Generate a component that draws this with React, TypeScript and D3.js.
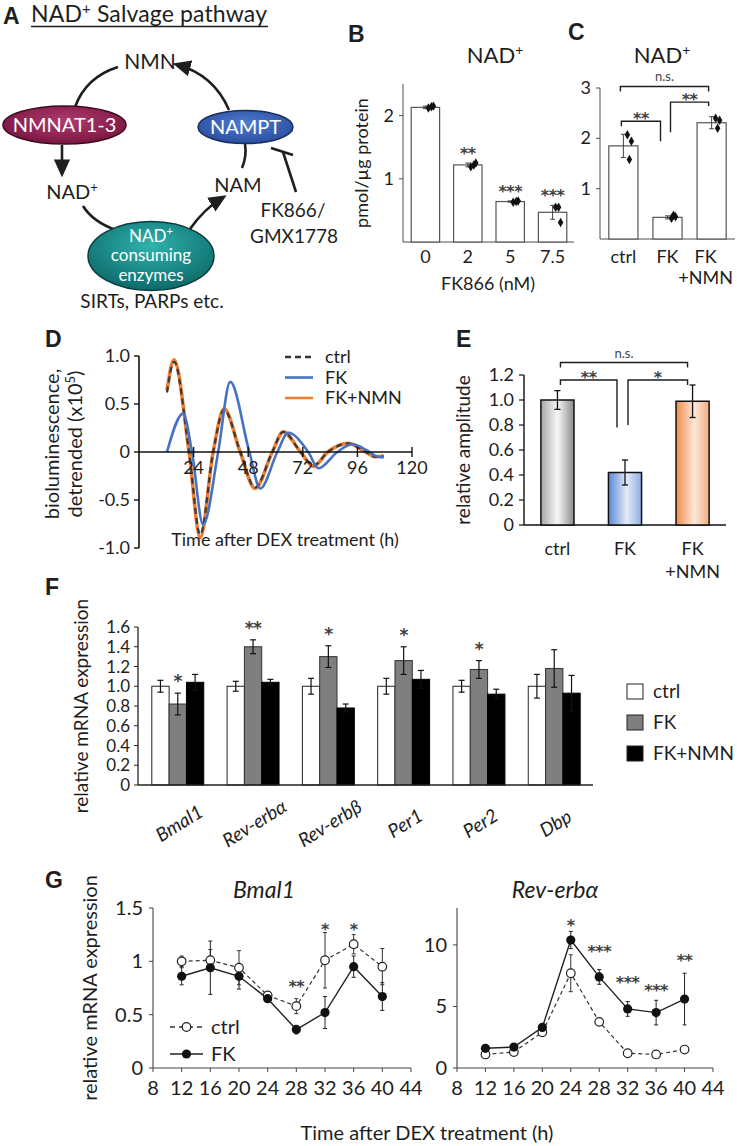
import React from 'react';
import * as d3 from 'd3';

const SANS = 'Lato, "Open Sans", "Noto Sans", sans-serif';
const BOLD = '"Liberation Sans", Arial, sans-serif';
const STAR = '"DejaVu Sans", sans-serif';
const INK = '#1e1e1e';
const AXIS = '#4d4d4d';

// ---------- Panel B ----------
const bDoses = ['0', '2', '5', '7.5'];
const bMeans = [2.13, 1.22, 0.64, 0.47];
const bErr = [0.02, 0.03, 0.01, 0.11];
const bDots = [
  [2.12, 2.14, 2.15],
  [1.19, 1.22, 1.25],
  [0.63, 0.64, 0.65],
  [0.55, 0.55, 0.31],
];
const bSig = ['', '**', '***', '***'];
const bTicks = [1, 2];

// ---------- Panel C ----------
const cGroups = ['ctrl', 'FK', 'FK+NMN'];
const cMeans = [1.85, 0.43, 2.31];
const cErr = [0.23, 0.03, 0.12];
const cDots = [
  [2.07, 1.94, 1.58],
  [0.41, 0.44, 0.47],
  [2.4, 2.36, 2.2],
];
const cTicks = [1, 2, 3];
const cBrackets = [
  { a: 0, b: 1, top: 2.34, endA: 2.24, endB: 1.94, label: '**' },
  { a: 1, b: 2, top: 2.72, endA: 2.12, endB: 2.64, label: '**' },
  { a: 0, b: 2, top: 3.03, endA: 2.93, endB: 2.93, label: 'n.s.' },
];

// ---------- Panel D ----------
const dCtrlT = [12.3, 15.4, 22, 26.9, 32.6, 37.4, 44.5, 51, 58.6, 63.4, 71, 76.7, 83, 92, 99, 104, 107.5];
const dCtrlV = [0.62, 0.94, 0, -0.86, 0, 0.44, 0, -0.37, 0, 0.21, 0, -0.14, 0, 0.09, 0.01, -0.05, -0.04];
const dNmnV = [0.64, 0.96, 0, -0.89, 0, 0.45, 0, -0.38, 0, 0.21, 0, -0.15, 0, 0.09, 0.01, -0.05, -0.04];
const dFkT = [12.3, 19.4, 23.3, 28.2, 34.8, 40.1, 48.5, 53.3, 60.8, 65.6, 74.4, 78.9, 87.2, 93.8, 100, 104, 107.5];
const dFkV = [0, 0.4, 0, -0.76, 0, 0.73, 0, -0.38, 0, 0.2, 0, -0.17, 0, 0.08, 0.02, -0.04, -0.06];
const dXTicks = [24, 48, 72, 96, 120];
const dYTicks = [-1, -0.5, 0, 0.5, 1];
const dLegend = ['ctrl', 'FK', 'FK+NMN'];

// ---------- Panel E ----------
const eGroups = ['ctrl', 'FK', 'FK+NMN'];
const eMeans = [1.0, 0.42, 0.99];
const eErr = [0.075, 0.1, 0.13];
const eTicks = [0, 0.2, 0.4, 0.6, 0.8, 1.0, 1.2];
const eBrackets = [
  { a: 0, b: 1, top: 1.16, endA: 1.12, endB: 0.78, label: '**' },
  { a: 1, b: 2, top: 1.16, endA: 0.8, endB: 1.12, label: '*' },
  { a: 0, b: 2, top: 1.3, endA: 1.26, endB: 1.26, label: 'n.s.' },
];

// ---------- Panel F ----------
const fGenes = ['Bmal1', 'Rev-erbα', 'Rev-erbβ', 'Per1', 'Per2', 'Dbp'];
const fSeriesNames = ['ctrl', 'FK', 'FK+NMN'];
const fCtrl = [1.0, 1.0, 1.0, 1.0, 1.0, 1.0];
const fCtrlErr = [0.06, 0.05, 0.08, 0.08, 0.06, 0.12];
const fFK = [0.82, 1.4, 1.3, 1.26, 1.17, 1.18];
const fFKErr = [0.11, 0.07, 0.11, 0.14, 0.09, 0.19];
const fNMN = [1.04, 1.04, 0.78, 1.07, 0.92, 0.93];
const fNMNErr = [0.08, 0.03, 0.04, 0.09, 0.05, 0.18];
const fSig = ['*', '**', '*', '*', '*', ''];
const fTicks = [0, 0.2, 0.4, 0.6, 0.8, 1.0, 1.2, 1.4, 1.6];

// ---------- Panel G ----------
const gTime = [12, 16, 20, 24, 28, 32, 36, 40];
const gXTicks = [8, 12, 16, 20, 24, 28, 32, 36, 40, 44];
const gBmCtrl = [1.0, 1.01, 0.94, 0.68, 0.58, 1.01, 1.16, 0.95];
const gBmCtrlErr = [0.05, 0.1, 0.16, 0.02, 0.07, 0.26, 0.09, 0.17];
const gBmFK = [0.86, 0.94, 0.86, 0.65, 0.36, 0.52, 0.95, 0.67];
const gBmFKErr = [0.08, 0.25, 0.12, 0.02, 0.04, 0.15, 0.1, 0.13];
const gBmSig = ['', '', '', '', '**', '*', '*', ''];
const gBmSigAt = [0, 0, 0, 0, 0.8, 1.34, 1.34, 0];
const gBmTicks = [0, 0.5, 1, 1.5];
const gRevCtrl = [1.1, 1.3, 2.9, 7.7, 3.75, 1.2, 1.1, 1.5];
const gRevCtrlErr = [0.1, 0.15, 0.2, 1.5, 0.2, 0.15, 0.1, 0.25];
const gRevFK = [1.6, 1.7, 3.3, 10.4, 7.4, 4.8, 4.5, 5.6];
const gRevFKErr = [0.15, 0.15, 0.25, 0.7, 0.6, 0.6, 1.0, 2.1];
const gRevSig = ['', '', '', '*', '***', '***', '***', '**'];
const gRevSigAt = [0, 0, 0, 11.9, 9.8, 7.3, 6.6, 9.1];
const gRevTicks = [0, 5, 10];

const fmt1 = (v: number) => (v === 0 ? '0' : v.toFixed(1));

function Panel({ x, y, t }: { x: number; y: number; t: string }) {
  return (
    <text x={x} y={y} fontFamily={BOLD} fontWeight={700} fontSize={23} fill={INK}>
      {t}
    </text>
  );
}

function ErrBar({ x, y1, y2, cap = 3, color = INK, w = 1.2 }: any) {
  return (
    <g stroke={color} strokeWidth={w}>
      <line x1={x} x2={x} y1={y1} y2={y2} />
      <line x1={x - cap} x2={x + cap} y1={y1} y2={y1} />
      <line x1={x - cap} x2={x + cap} y1={y2} y2={y2} />
    </g>
  );
}

function Stars({ x, cy, s, fs = 17, color = '#404040' }: any) {
  if (!s) return null;
  return (
    <text x={x} y={cy + fs * 0.6} textAnchor="middle" fontFamily={STAR} fontWeight={700} fontSize={fs} fill={color} letterSpacing={-0.5}>
      {s}
    </text>
  );
}

function PanelA() {
  return (
    <g fill={INK}>
      <Panel x={3} y={24} t="A" />
      <text x={31} y={22} fontSize={23} textLength={236} lengthAdjust="spacing">
        NAD<tspan fontSize={15} dy={-8}>+</tspan>
        <tspan dy={8}> Salvage pathway</tspan>
      </text>
      <line x1={31} x2={268} y1={26.5} y2={26.5} stroke={INK} strokeWidth={1.4} />
      <g fill="none" stroke={INK} strokeWidth={2.6}>
        <path d="M75,107 Q86,77 118,67" />
        <path d="M229,110 Q214,75 178,65" markerEnd="url(#arrowA)" />
        <path d="M62,145 L62,172" markerEnd="url(#arrowA)" />
        <path d="M83,206 Q93,222 116,230" />
        <path d="M190,229 Q204,209 222,198" markerEnd="url(#arrowA)" />
        <path d="M245,144 Q247,156 242,168" />
        <path d="M296,192 L283,152" />
        <path d="M271,148 L293,155" />
      </g>
      <ellipse cx={64.5} cy={125} rx={61.5} ry={19} fill="url(#gNmnat)" stroke="#3b0b22" strokeWidth={1.5} />
      <text x={64.5} y={132} textAnchor="middle" fill="#fff" fontSize={20}>NMNAT1-3</text>
      <ellipse cx={245.5} cy={127} rx={47.5} ry={16.5} fill="url(#gNampt)" stroke="#1b2d5c" strokeWidth={1.5} />
      <text x={245.5} y={134} textAnchor="middle" fill="#fff" fontSize={20}>NAMPT</text>
      <ellipse cx={151} cy={256} rx={63} ry={34.5} fill="url(#gTeal)" stroke="#0a3d3d" strokeWidth={1.5} />
      <text x={151} y={242} textAnchor="middle" fill="#fff" fontSize={17}>
        NAD<tspan fontSize={11} dy={-7}>+</tspan>
      </text>
      <text x={151} y={261} textAnchor="middle" fill="#fff" fontSize={17}>consuming</text>
      <text x={151} y={280.5} textAnchor="middle" fill="#fff" fontSize={17}>enzymes</text>
      <text x={150} y={69} textAnchor="middle" fontSize={21}>NMN</text>
      <text x={72} y={199} textAnchor="middle" fontSize={20}>
        NAD<tspan fontSize={13} dy={-7}>+</tspan>
      </text>
      <text x={238} y={192} textAnchor="middle" fontSize={20}>NAM</text>
      <text x={293} y={217} textAnchor="middle" fontSize={19}>FK866/</text>
      <text x={294} y={243} textAnchor="middle" fontSize={19}>GMX1778</text>
      <text x={152} y={308} textAnchor="middle" fontSize={19}>SIRTs, PARPs etc.</text>
    </g>
  );
}

function PanelB() {
  const x = d3.scaleBand<string>().domain(bDoses).range([404, 574]).paddingInner(0.33).paddingOuter(0.17);
  const y = d3.scaleLinear().domain([0, 2.5]).range([242, 84]);
  const bw = x.bandwidth();
  const jit = [3, 6, 8];
  const diamond = d3.symbol().type(d3.symbolDiamond).size(26)() as string;
  const ax = 403;
  return (
    <g fill={INK}>
      <Panel x={348} y={42} t="B" />
      <text x={495} y={63} textAnchor="middle" fontSize={22}>
        NAD<tspan fontSize={14} dy={-8}>+</tspan>
      </text>
      <line x1={ax} x2={ax} y1={y(2.5)} y2={y(0)} stroke={AXIS} />
      <line x1={ax} x2={574} y1={y(0)} y2={y(0)} stroke={AXIS} />
      {bTicks.map((t) => (
        <g key={t}>
          <line x1={ax - 4} x2={ax} y1={y(t)} y2={y(t)} stroke={AXIS} />
          <text x={ax - 9} y={y(t) + 6} textAnchor="end" fontSize={18}>{t}</text>
        </g>
      ))}
      {bDoses.map((d, i) => {
        const cx = (x(d) as number) + bw / 2;
        return (
          <g key={d}>
            <rect x={x(d)} y={y(bMeans[i])} width={bw} height={y(0) - y(bMeans[i])} fill="#fff" stroke="#555" strokeWidth={1.2} />
            <ErrBar x={cx} y1={y(bMeans[i] + bErr[i])} y2={y(bMeans[i] - bErr[i])} cap={2.5} color="#444" w={1} />
            {bDots[i].map((v, j) => (
              <path key={j} d={diamond} transform={`translate(${cx + jit[j]},${y(v)})`} fill="#111" />
            ))}
            <Stars x={cx} cy={y(bMeans[i] + bErr[i]) - 14} s={bSig[i]} fs={16} />
            <text x={cx} y={263} textAnchor="middle" fontSize={18}>{d}</text>
          </g>
        );
      })}
      <text x={488} y={290} textAnchor="middle" fontSize={18}>FK866 (nM)</text>
      <text transform={`translate(368,${(y(2.5) + y(0)) / 2}) rotate(-90)`} textAnchor="middle" fontSize={18}>
        pmol/µg protein
      </text>
    </g>
  );
}

function BarBrackets({ brackets, cx, y, offs, fs }: any) {
  return (
    <g>
      {brackets.map((b: any, i: number) => {
        const xa = cx(b.a) + offs[i][0];
        const xb = cx(b.b) + offs[i][1];
        const isNs = b.label === 'n.s.';
        return (
          <g key={i}>
            <path
              d={`M${xa},${y(b.endA)} V${y(b.top)} H${xb} V${y(b.endB)}`}
              fill="none"
              stroke={INK}
              strokeWidth={1.4}
            />
            {isNs ? (
              <text x={(xa + xb) / 2} y={y(b.top) - 5} textAnchor="middle" fontSize={13} fill="#444">n.s.</text>
            ) : (
              <Stars x={(xa + xb) / 2} cy={y(b.top) - 7} s={b.label} fs={fs} />
            )}
          </g>
        );
      })}
    </g>
  );
}

function PanelC() {
  const x = d3.scaleBand<string>().domain(cGroups).range([600, 735]).paddingInner(0.34).paddingOuter(0.2);
  const y = d3.scaleLinear().domain([0, 3]).range([239, 88]);
  const bw = x.bandwidth();
  const cx = (i: number) => (x(cGroups[i]) as number) + bw / 2;
  const jit = [4, 8, 6];
  const diamond = d3.symbol().type(d3.symbolDiamond).size(26)() as string;
  const ax = 600;
  return (
    <g fill={INK}>
      <Panel x={568} y={40} t="C" />
      <text x={662} y={63} textAnchor="middle" fontSize={22}>
        NAD<tspan fontSize={14} dy={-8}>+</tspan>
      </text>
      <line x1={ax} x2={ax} y1={y(3)} y2={y(0)} stroke={AXIS} />
      <line x1={ax} x2={735} y1={y(0)} y2={y(0)} stroke={AXIS} />
      {cTicks.map((t) => (
        <g key={t}>
          <line x1={ax - 4} x2={ax} y1={y(t)} y2={y(t)} stroke={AXIS} />
          <text x={ax - 9} y={y(t) + 6} textAnchor="end" fontSize={18}>{t}</text>
        </g>
      ))}
      {cGroups.map((g, i) => (
        <g key={g}>
          <rect x={x(g)} y={y(cMeans[i])} width={bw} height={y(0) - y(cMeans[i])} fill="#fff" stroke="#555" strokeWidth={1.2} />
          <ErrBar x={cx(i)} y1={y(cMeans[i] + cErr[i])} y2={y(cMeans[i] - cErr[i])} cap={2.5} color="#444" w={1} />
          {cDots[i].map((v, j) => (
            <path key={j} d={diamond} transform={`translate(${cx(i) + jit[j]},${y(v)})`} fill="#111" />
          ))}
        </g>
      ))}
      <BarBrackets brackets={cBrackets} cx={cx} y={y} offs={[[-2, -7], [3, -3], [-3, -3]]} fs={16} />
      <text x={cx(0)} y={263} textAnchor="middle" fontSize={18}>ctrl</text>
      <text x={cx(1)} y={263} textAnchor="middle" fontSize={18}>FK</text>
      <text x={cx(2) - 6} y={263} textAnchor="middle" fontSize={18}>FK</text>
      <text x={cx(2) - 6} y={284} textAnchor="middle" fontSize={18}>+NMN</text>
    </g>
  );
}

function PanelD() {
  const x = d3.scaleLinear().domain([0, 120]).range([139, 412]);
  const y = d3.scaleLinear().domain([-1, 1]).range([548, 356]);
  const line = d3
    .line<[number, number]>()
    .x((d) => x(d[0]))
    .y((d) => y(d[1]))
    .curve(d3.curveMonotoneX);
  const ctrl = dCtrlT.map((t, i) => [t, dCtrlV[i]] as [number, number]);
  const nmn = dCtrlT.map((t, i) => [t, dNmnV[i]] as [number, number]);
  const fk = dFkT.map((t, i) => [t, dFkV[i]] as [number, number]);
  const legendStyles = [
    { stroke: '#333', dash: '6,4', w: 2.4 },
    { stroke: '#4472C4', dash: undefined, w: 2.6 },
    { stroke: '#ED7D31', dash: undefined, w: 2.6 },
  ];
  return (
    <g fill={INK}>
      <Panel x={45} y={347} t="D" />
      <path d={line(nmn) as string} fill="none" stroke="#ED7D31" strokeWidth={3.6} />
      <path d={line(ctrl) as string} fill="none" stroke="#3a3a3a" strokeWidth={2.2} strokeDasharray="6,4" />
      <path d={line(fk) as string} fill="none" stroke="#4472C4" strokeWidth={2.6} />
      <line x1={x(0)} x2={x(0)} y1={y(1)} y2={y(-1)} stroke="#111" strokeWidth={1.6} />
      <line x1={x(0)} x2={x(120)} y1={y(0)} y2={y(0)} stroke="#111" strokeWidth={1.6} />
      {dYTicks.map((t) => (
        <g key={t}>
          <line x1={x(0) - 5} x2={x(0)} y1={y(t)} y2={y(t)} stroke="#111" strokeWidth={1.4} />
          <text x={x(0) - 9} y={y(t) + 6} textAnchor="end" fontSize={18}>{fmt1(t)}</text>
        </g>
      ))}
      {dXTicks.map((t) => (
        <g key={t}>
          <line x1={x(t)} x2={x(t)} y1={y(0) - 5} y2={y(0) + 5} stroke="#111" strokeWidth={1.4} />
          <text x={x(t)} y={y(0) + 22} textAnchor="middle" fontSize={18}>{t}</text>
        </g>
      ))}
      <text x={285} y={546} textAnchor="middle" fontSize={18}>Time after DEX treatment (h)</text>
      <text transform={`translate(59,${y(0) - 8}) rotate(-90)`} textAnchor="middle" fontSize={20}>bioluminescence,</text>
      <text transform={`translate(82,${y(0) - 8}) rotate(-90)`} textAnchor="middle" fontSize={20}>
        detrended (x10<tspan fontSize={13} dy={-7}>5</tspan>
        <tspan dy={7}>)</tspan>
      </text>
      {dLegend.map((n, i) => (
        <g key={n}>
          <line x1={285} x2={313} y1={357 + i * 20.5} y2={357 + i * 20.5} stroke={legendStyles[i].stroke} strokeWidth={legendStyles[i].w} strokeDasharray={legendStyles[i].dash} />
          <text x={325} y={363 + i * 20.5} fontSize={18}>{n}</text>
        </g>
      ))}
    </g>
  );
}

function PanelE() {
  const x = d3.scaleBand<string>().domain(eGroups).range([524, 726]).paddingInner(0.51).paddingOuter(0.25);
  const y = d3.scaleLinear().domain([0, 1.2]).range([525, 375]);
  const bw = x.bandwidth();
  const cx = (i: number) => (x(eGroups[i]) as number) + bw / 2;
  const grads = ['url(#gE0)', 'url(#gE1)', 'url(#gE2)'];
  const ax = 524;
  return (
    <g fill={INK}>
      <Panel x={456} y={347} t="E" />
      <line x1={ax} x2={ax} y1={y(1.2)} y2={y(0)} stroke="#111" strokeWidth={1.4} />
      <line x1={ax} x2={726} y1={y(0)} y2={y(0)} stroke="#111" strokeWidth={1.4} />
      {eTicks.map((t) => (
        <g key={t}>
          <line x1={ax - 5} x2={ax} y1={y(t)} y2={y(t)} stroke="#111" strokeWidth={1.2} />
          <text x={ax - 10} y={y(t) + 6} textAnchor="end" fontSize={18}>{fmt1(t)}</text>
        </g>
      ))}
      {eGroups.map((g, i) => (
        <g key={g}>
          <rect x={x(g)} y={y(eMeans[i])} width={bw} height={y(0) - y(eMeans[i])} fill={grads[i]} stroke="#111" strokeWidth={1.5} />
          <ErrBar x={cx(i)} y1={y(eMeans[i] + eErr[i])} y2={y(eMeans[i] - eErr[i])} cap={3} color="#111" w={1.3} />
        </g>
      ))}
      <BarBrackets brackets={eBrackets} cx={cx} y={y} offs={[[3, -8], [3, -5], [3, -5]]} fs={16} />
      <text x={cx(0)} y={555} textAnchor="middle" fontSize={18}>ctrl</text>
      <text x={cx(1)} y={555} textAnchor="middle" fontSize={18}>FK</text>
      <text x={cx(2)} y={555} textAnchor="middle" fontSize={18}>FK</text>
      <text x={cx(2)} y={578} textAnchor="middle" fontSize={18}>+NMN</text>
      <text transform={`translate(470,${(y(1.2) + y(0)) / 2}) rotate(-90)`} textAnchor="middle" fontSize={19}>
        relative amplitude
      </text>
    </g>
  );
}

function PanelF() {
  const x0 = d3.scaleBand<string>().domain(fGenes).range([139, 593]).paddingInner(0.31).paddingOuter(0.17);
  const x1 = d3.scaleBand<string>().domain(fSeriesNames).range([0, x0.bandwidth()]);
  const y = d3.scaleLinear().domain([0, 1.6]).range([785, 627]);
  const series = [
    { name: 'ctrl', vals: fCtrl, err: fCtrlErr, fill: '#ffffff', stroke: '#222' },
    { name: 'FK', vals: fFK, err: fFKErr, fill: '#7f7f7f', stroke: '#333' },
    { name: 'FK+NMN', vals: fNMN, err: fNMNErr, fill: '#000000', stroke: '#000' },
  ];
  const ax = 138;
  return (
    <g fill={INK}>
      <Panel x={45} y={595} t="F" />
      {fGenes.map((g, gi) => (
        <g key={g}>
          {series.map((s) => {
            const bx = (x0(g) as number) + (x1(s.name) as number);
            const v = s.vals[gi];
            return (
              <g key={s.name}>
                <rect x={bx} y={y(v)} width={x1.bandwidth()} height={y(0) - y(v)} fill={s.fill} stroke={s.stroke} strokeWidth={1} />
                <ErrBar x={bx + x1.bandwidth() / 2} y1={y(v + s.err[gi])} y2={y(v - s.err[gi])} cap={3} color="#111" w={1.2} />
              </g>
            );
          })}
          <Stars
            x={(x0(g) as number) + (x1('FK') as number) + x1.bandwidth() / 2}
            cy={y(fFK[gi] + fFKErr[gi]) - 16}
            s={fSig[gi]}
            fs={17}
          />
          <text
            transform={`translate(${(x0(g) as number) + x0.bandwidth() / 2 + 5},${829}) rotate(-32)`}
            textAnchor="middle"
            fontStyle="italic"
            fontSize={19}
          >
            {g}
          </text>
        </g>
      ))}
      <line x1={ax} x2={ax} y1={y(1.6)} y2={y(0)} stroke="#222" strokeWidth={1.3} />
      <line x1={ax} x2={593} y1={y(0)} y2={y(0)} stroke="#222" strokeWidth={1.3} />
      {fTicks.map((t) => (
        <g key={t}>
          <line x1={ax - 4} x2={ax} y1={y(t)} y2={y(t)} stroke="#222" />
          <text x={ax - 8} y={y(t) + 6} textAnchor="end" fontSize={17}>{fmt1(t)}</text>
        </g>
      ))}
      <text transform={`translate(88,${(y(1.6) + y(0)) / 2}) rotate(-90)`} textAnchor="middle" fontSize={19}>
        relative mRNA expression
      </text>
      {series.map((s, i) => (
        <g key={s.name}>
          <rect x={627} y={684 + i * 31} width={16} height={15} fill={s.fill} stroke="#222" strokeWidth={1} />
          <text x={653} y={698 + i * 31} fontSize={19}>{s.name}</text>
        </g>
      ))}
    </g>
  );
}

function GSub({ x0, x1, yMax, yTop, yBottom, ticks, ctrl, ctrlErr, fk, fkErr, sig, sigAt, title, titleX, legend }: any) {
  const x = d3.scaleLinear().domain([8, 44]).range([x0, x1]);
  const y = d3.scaleLinear().domain([0, yMax]).range([yBottom, yTop]);
  const line = d3.line<number>().x((_, i) => x(gTime[i])).y((d) => y(d));
  return (
    <g fill={INK}>
      <text x={titleX} y={898} textAnchor="middle" fontStyle="italic" fontSize={23}>{title}</text>
      <line x1={x0} x2={x0} y1={yTop} y2={yBottom} stroke="#444" strokeWidth={1.1} />
      <line x1={x0} x2={x1} y1={yBottom} y2={yBottom} stroke="#444" strokeWidth={1.1} />
      {ticks.map((t: number) => (
        <g key={t}>
          <line x1={x0 - 4} x2={x0} y1={y(t)} y2={y(t)} stroke="#444" />
          <text x={x0 - 10} y={y(t) + 7} textAnchor="end" fontSize={20}>{String(t)}</text>
        </g>
      ))}
      {gXTicks.map((t) => (
        <g key={t}>
          <line x1={x(t)} x2={x(t)} y1={yBottom} y2={yBottom + 4} stroke="#444" />
          <text x={x(t)} y={yBottom + 27} textAnchor="middle" fontSize={20}>{t}</text>
        </g>
      ))}
      <path d={line(ctrl) as string} fill="none" stroke="#333" strokeWidth={1.2} strokeDasharray="4,3" />
      <path d={line(fk) as string} fill="none" stroke="#222" strokeWidth={1.4} />
      {gTime.map((t, i) => (
        <g key={t}>
          <ErrBar x={x(t)} y1={y(ctrl[i] + ctrlErr[i])} y2={y(Math.max(0, ctrl[i] - ctrlErr[i]))} cap={2} color="#333" w={1} />
          <ErrBar x={x(t)} y1={y(fk[i] + fkErr[i])} y2={y(Math.max(0, fk[i] - fkErr[i]))} cap={2} color="#222" w={1} />
        </g>
      ))}
      {gTime.map((t, i) => (
        <circle key={'c' + t} cx={x(t)} cy={y(ctrl[i])} r={4.3} fill="#fff" stroke="#222" strokeWidth={1.2} />
      ))}
      {gTime.map((t, i) => (
        <circle key={'f' + t} cx={x(t)} cy={y(fk[i])} r={4.6} fill="#111" />
      ))}
      {gTime.map((t, i) => (
        <Stars key={'s' + t} x={x(t)} cy={y(sigAt[i])} s={sig[i]} fs={16} />
      ))}
      {legend && (
        <g>
          <line x1={170} x2={203} y1={1027} y2={1027} stroke="#333" strokeWidth={1.3} strokeDasharray="5,4" />
          <circle cx={186.5} cy={1027} r={4.3} fill="#fff" stroke="#222" strokeWidth={1.3} />
          <text x={211} y={1034} fontSize={20}>ctrl</text>
          <line x1={170} x2={203} y1={1054} y2={1054} stroke="#222" strokeWidth={1.5} />
          <circle cx={186.5} cy={1054} r={4.6} fill="#111" />
          <text x={211} y={1061} fontSize={20}>FK</text>
        </g>
      )}
    </g>
  );
}

function PanelG() {
  return (
    <g fill={INK}>
      <Panel x={45} y={888} t="G" />
      <GSub
        x0={153}
        x1={411}
        yMax={1.5}
        yTop={908}
        yBottom={1068}
        ticks={gBmTicks}
        ctrl={gBmCtrl}
        ctrlErr={gBmCtrlErr}
        fk={gBmFK}
        fkErr={gBmFKErr}
        sig={gBmSig}
        sigAt={gBmSigAt}
        title="Bmal1"
        titleX={264}
        legend
      />
      <GSub
        x0={457}
        x1={713}
        yMax={13}
        yTop={908}
        yBottom={1068}
        ticks={gRevTicks}
        ctrl={gRevCtrl}
        ctrlErr={gRevCtrlErr}
        fk={gRevFK}
        fkErr={gRevFKErr}
        sig={gRevSig}
        sigAt={gRevSigAt}
        title="Rev-erbα"
        titleX={555}
      />
      <text transform={`translate(97,988) rotate(-90)`} textAnchor="middle" fontSize={20}>relative mRNA expression</text>
      <text x={427} y={1140} textAnchor="middle" fontSize={20}>Time after DEX treatment (h)</text>
    </g>
  );
}

export default function App() {
  return (
    <svg
      width={737}
      height={1146}
      viewBox="0 0 737 1146"
      style={{ position: 'absolute', left: 0, top: 0, background: '#fff' }}
      fontFamily={SANS}
    >
      <defs>
        <marker id="arrowA" viewBox="0 0 10 10" refX={7} refY={5} markerUnits="userSpaceOnUse" markerWidth={18} markerHeight={18} orient="auto">
          <path d="M0,0.5 L10,5 L0,9.5 z" fill={INK} />
        </marker>
        <radialGradient id="gNmnat" cx="50%" cy="40%" r="60%">
          <stop offset="0%" stopColor="#b03c70" />
          <stop offset="100%" stopColor="#7a1640" />
        </radialGradient>
        <radialGradient id="gNampt" cx="50%" cy="40%" r="60%">
          <stop offset="0%" stopColor="#4f7bd0" />
          <stop offset="100%" stopColor="#2a4f9f" />
        </radialGradient>
        <radialGradient id="gTeal" cx="50%" cy="35%" r="65%">
          <stop offset="0%" stopColor="#2fb3ad" />
          <stop offset="100%" stopColor="#0d6a6a" />
        </radialGradient>
        <linearGradient id="gE0" x1="0" x2="1" y1="0" y2="0">
          <stop offset="0%" stopColor="#a6a6a6" />
          <stop offset="50%" stopColor="#f7f7f7" />
          <stop offset="100%" stopColor="#8c8c8c" />
        </linearGradient>
        <linearGradient id="gE1" x1="0" x2="1" y1="0" y2="0">
          <stop offset="0%" stopColor="#5b86d3" />
          <stop offset="55%" stopColor="#e3eaf7" />
          <stop offset="100%" stopColor="#8eaee2" />
        </linearGradient>
        <linearGradient id="gE2" x1="0" x2="1" y1="0" y2="0">
          <stop offset="0%" stopColor="#f08a4b" />
          <stop offset="55%" stopColor="#fde8d9" />
          <stop offset="100%" stopColor="#f3ad7f" />
        </linearGradient>
      </defs>
      <rect x={0} y={0} width={737} height={1146} fill="#fff" />
      <PanelA />
      <PanelB />
      <PanelC />
      <PanelD />
      <PanelE />
      <PanelF />
      <PanelG />
    </svg>
  );
}
